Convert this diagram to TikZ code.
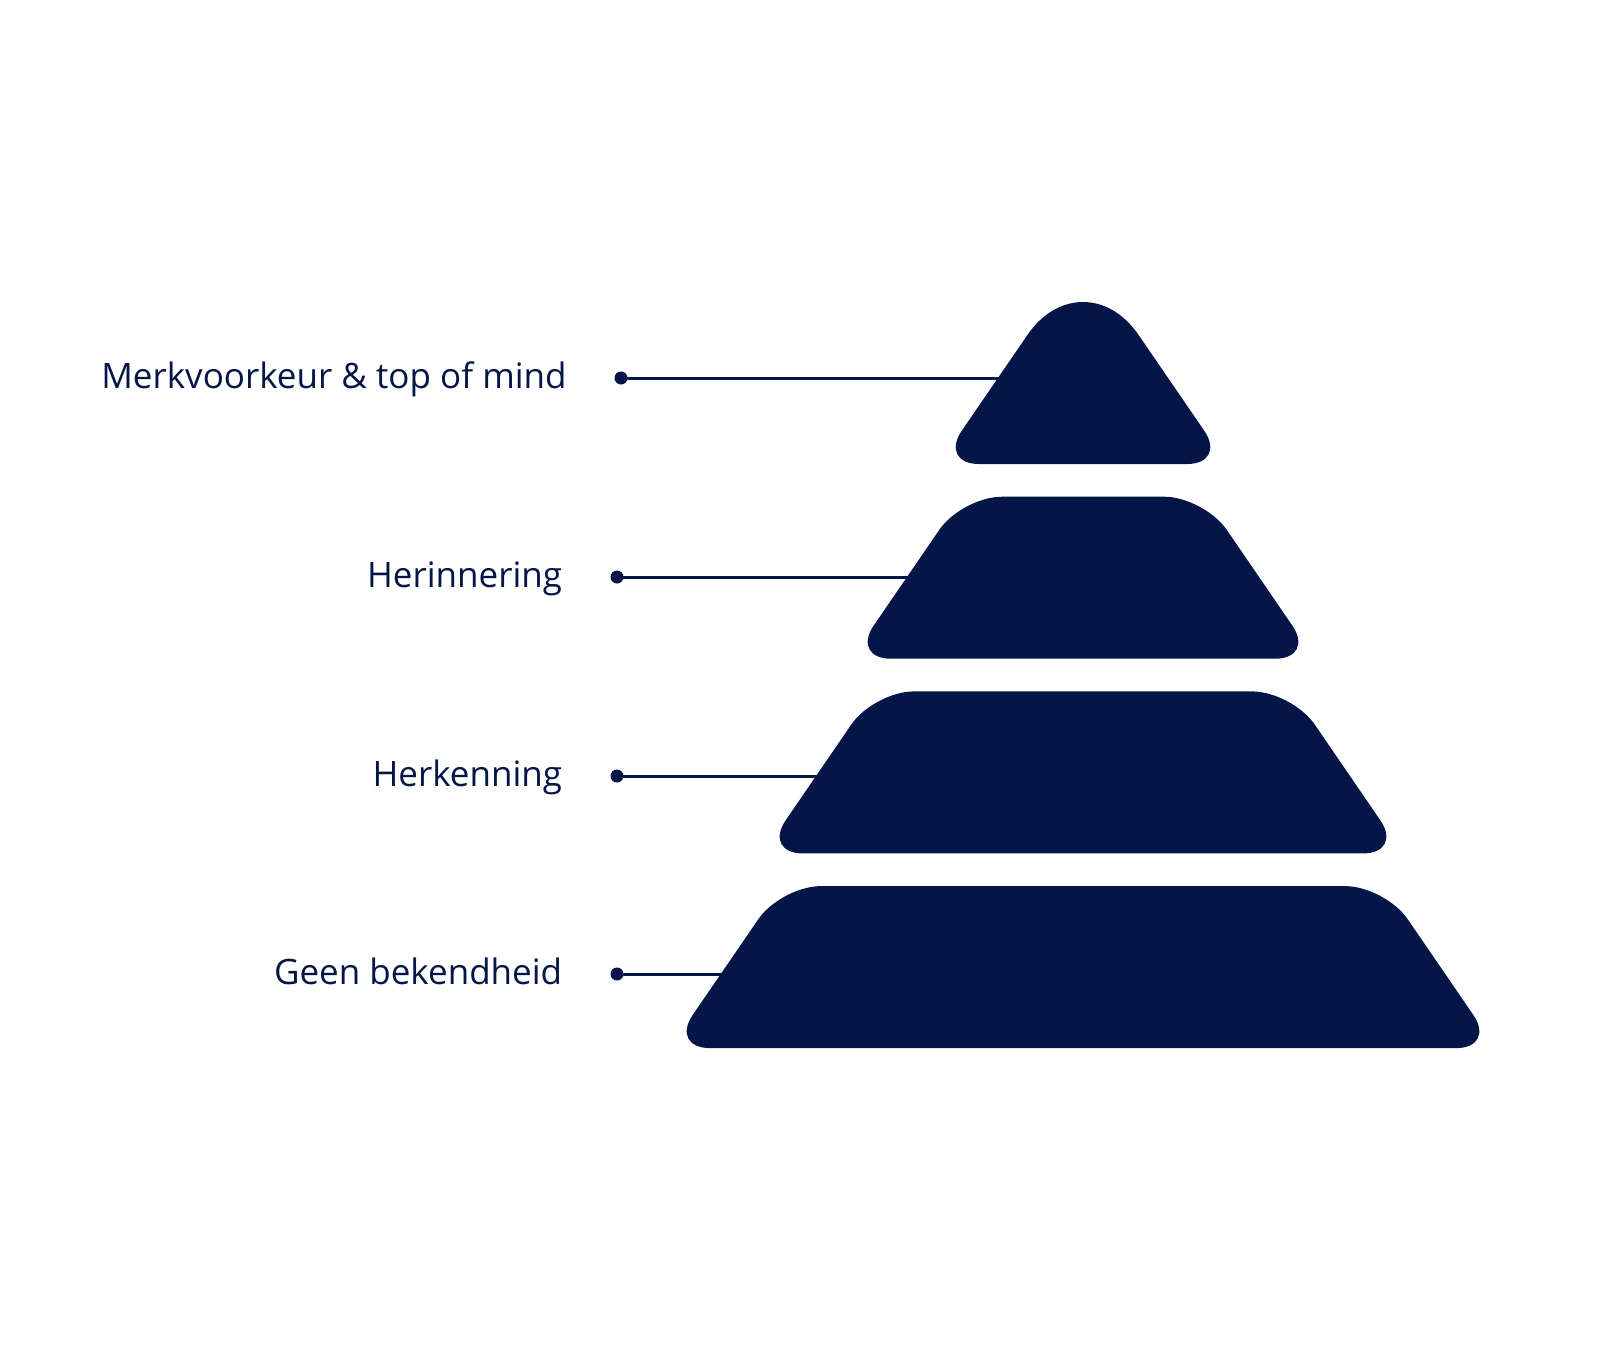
\documentclass[tikz,border=0pt]{standalone}
\usepackage{fontspec}
\setmainfont{Open Sans}
\definecolor{navy}{HTML}{031647}
\begin{document}
\begin{tikzpicture}[x=0.5pt,y=-0.5pt,
  layer/.style={fill=navy,rounded corners=20pt},
  lbl/.style={anchor=base east,inner sep=0pt,text=navy,font=\fontsize{17.5}{20}\selectfont},
  dotnode/.style={circle,fill=navy,inner sep=0pt,minimum size=6.5pt},
  conn/.style={draw=navy,line width=1.5pt}]
\useasboundingbox (0,0) rectangle (1600,1350);
% dots and connector ends
\node[dotnode] (d1) at (621,378) {};
\node[dotnode] (d2) at (617,577) {};
\node[dotnode] (d3) at (617,776) {};
\node[dotnode] (d4) at (617,974) {};
\coordinate (e1) at (1083,378);
\coordinate (e2) at (1083,577);
\coordinate (e3) at (1083,776);
\coordinate (e4) at (1083,974);
\draw[conn] (d1.center) -- (e1);
\draw[conn] (d2.center) -- (e2);
\draw[conn] (d3.center) -- (e3);
\draw[conn] (d4.center) -- (e4);
% layers
\fill[navy] (1083,464) -- (979,464) .. controls (957,464) and (949.2,449.2) .. (961.6,431)
  -- (1027.4,335) .. controls (1057.5,291) and (1108.5,291) .. (1138.6,335)
  -- (1204.4,431) .. controls (1216.8,449.2) and (1209,464) .. (1187,464) -- cycle;
\fill[layer] (1083,658.7) -- (851,658.7) -- (962,496.7) -- (1204,496.7) -- (1315,658.7) -- cycle;
\fill[layer] (1083,853.4) -- (763,853.4) -- (874,691.4) -- (1292,691.4) -- (1403,853.4) -- cycle;
\fill[layer] (1083,1048.1) -- (670,1048.1) -- (781,886.1) -- (1385,886.1) -- (1496,1048.1) -- cycle;
% labels
\node[lbl] (t1) at (567,388.5) {Merkvoorkeur \& top of mind};
\node[lbl] (t2) at (562.5,587.5) {Herinnering};
\node[lbl] (t3) at (562.5,786.5) {Herkenning};
\node[lbl] (t4) at (562.5,984.5) {Geen bekendheid};
\end{tikzpicture}
\end{document}
